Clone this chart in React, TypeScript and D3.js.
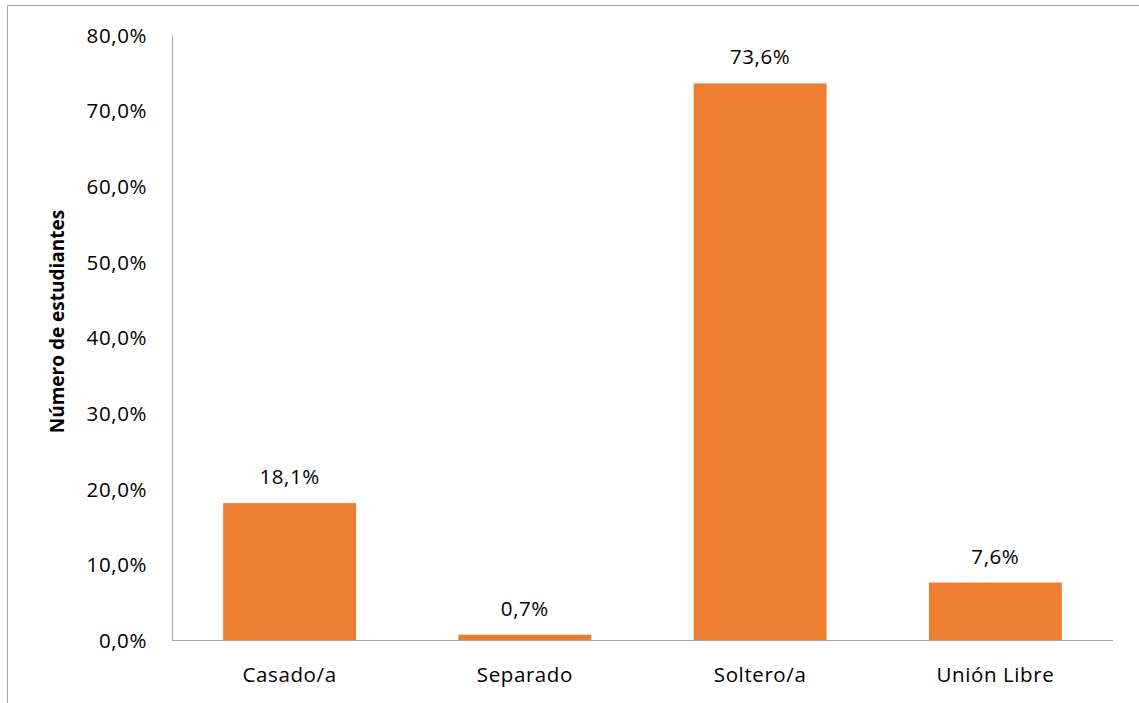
import React, { useEffect, useRef } from 'react';
import * as d3 from 'd3';

const categories = ['Casado/a', 'Separado', 'Soltero/a', 'Unión Libre'];
const values = [18.1, 0.7, 73.6, 7.6];
const yTicks = [0, 10, 20, 30, 40, 50, 60, 70, 80];
const yTitle = 'Número de estudiantes';

const fmt = (v: number) => v.toFixed(1).replace('.', ',') + '%';

const App = () => {
  const ref = useRef<SVGSVGElement | null>(null);

  useEffect(() => {
    if (!ref.current) return;
    const svg = d3.select(ref.current);
    svg.selectAll('*').remove();

    const W = 1139, H = 703;
    const margin = { top: 35, right: 26, bottom: 63, left: 172 };
    const width = W - margin.left - margin.right;
    const height = H - margin.top - margin.bottom;
    const font = "'Open Sans', 'Noto Sans', sans-serif";
    const fs = '20.5px';
    const ls = '0.6px';

    // outer chart border (runs off the right and bottom of the picture)
    svg.append('rect')
      .attr('x', 7.5).attr('y', 5.5)
      .attr('width', W + 20).attr('height', H + 20)
      .attr('fill', 'white').attr('stroke', '#a6a6a6').attr('stroke-width', 1);

    const chart = svg.append('g')
      .attr('transform', `translate(${margin.left},${margin.top})`);

    const x = d3.scaleBand()
      .domain(categories)
      .range([0, width])
      .paddingInner(0.435)
      .paddingOuter(0.2175);

    const y = d3.scaleLinear()
      .domain([0, 80])
      .range([height, 0]);

    // bars
    chart.selectAll('rect.bar')
      .data(values)
      .enter()
      .append('rect')
      .attr('class', 'bar')
      .attr('x', (d, i) => x(categories[i]) as number)
      .attr('y', d => y(d))
      .attr('width', x.bandwidth())
      .attr('height', d => height - y(d))
      .attr('fill', '#ed7d31');

    // axes lines
    chart.append('line')
      .attr('x1', 0.5).attr('x2', 0.5)
      .attr('y1', 0).attr('y2', height)
      .attr('stroke', '#a6a6a6');
    chart.append('line')
      .attr('x1', 0).attr('x2', width)
      .attr('y1', height + 0.5).attr('y2', height + 0.5)
      .attr('stroke', '#a6a6a6');

    // y tick labels
    chart.selectAll('text.ytick')
      .data(yTicks)
      .enter()
      .append('text')
      .attr('x', -25)
      .attr('y', d => y(d))
      .attr('dy', '0.38em')
      .attr('text-anchor', 'end')
      .style('font-family', font)
      .style('font-size', fs)
      .style('letter-spacing', ls)
      .attr('fill', '#000')
      .text(d => fmt(d));

    // category labels
    chart.selectAll('text.xtick')
      .data(categories)
      .enter()
      .append('text')
      .attr('x', d => (x(d) as number) + x.bandwidth() / 2)
      .attr('y', height + 42)
      .attr('text-anchor', 'middle')
      .style('font-family', font)
      .style('font-size', fs)
      .style('letter-spacing', ls)
      .attr('fill', '#000')
      .text(d => d);

    // data labels
    chart.selectAll('text.dlabel')
      .data(values)
      .enter()
      .append('text')
      .attr('x', (d, i) => (x(categories[i]) as number) + x.bandwidth() / 2)
      .attr('y', d => y(d) - 19)
      .attr('text-anchor', 'middle')
      .style('font-family', font)
      .style('font-size', fs)
      .style('letter-spacing', ls)
      .attr('fill', '#000')
      .text(d => fmt(d));

    // y axis title
    svg.append('text')
      .attr('transform', `translate(64,${margin.top + height / 2 - 16}) rotate(-90)`)
      .attr('text-anchor', 'middle')
      .style('font-family', font)
      .style('font-size', '19px')
      .style('font-weight', 'bold')
      .attr('fill', '#000')
      .text(yTitle);
  }, []);

  return <svg ref={ref} width={1139} height={703} style={{ position: 'absolute', left: 0, top: 0 }} />;
};

export default App;
